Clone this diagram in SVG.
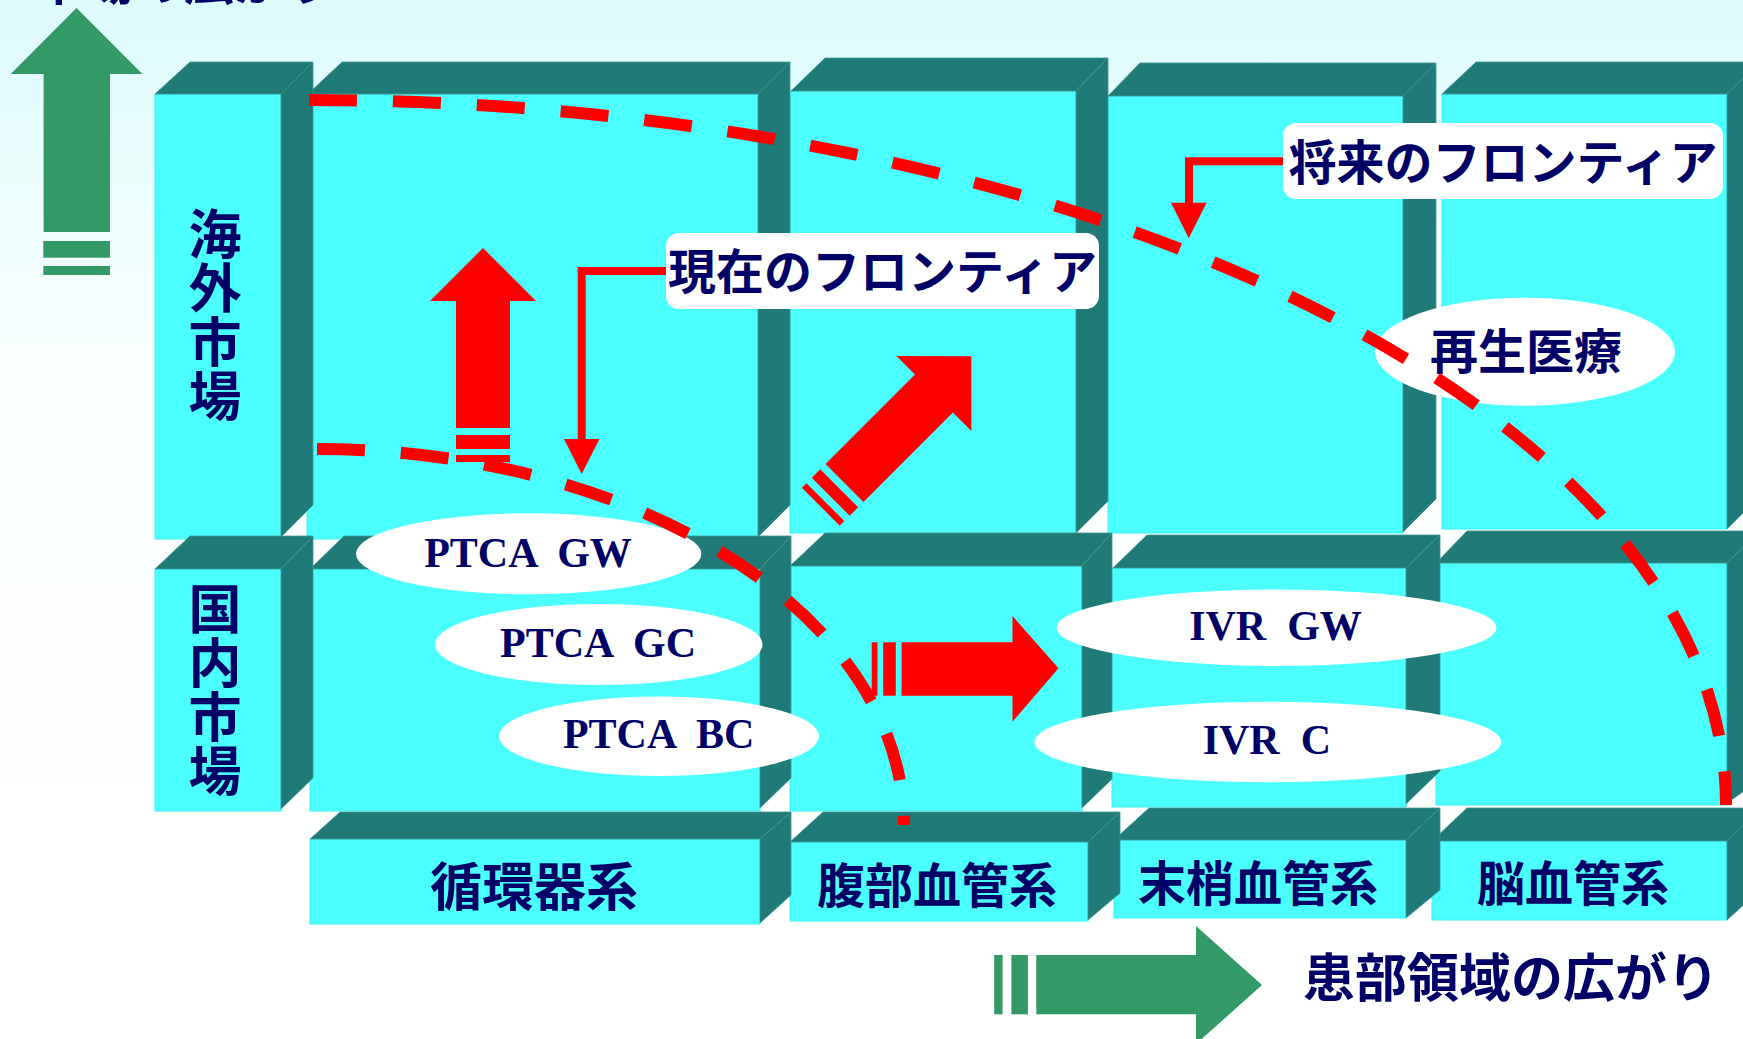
<svg xmlns="http://www.w3.org/2000/svg" width="1743" height="1039" viewBox="0 0 1743 1039">
<defs>
<linearGradient id="bg" x1="0" y1="0" x2="0" y2="1">
<stop offset="0" stop-color="#dcfbfc"/>
<stop offset="0.38" stop-color="#fcffff"/>
<stop offset="1" stop-color="#ffffff"/>
</linearGradient>
<style>
.fr{fill:#4cffff;stroke:#3df2f2;stroke-width:1}
.dk{fill:#1f7a78;stroke:#3c9796;stroke-width:0.8}
.jp{font-family:"Noto Sans CJK JP","Noto Sans CJK SC",sans-serif;font-weight:bold;fill:#000066}
.vt{writing-mode:vertical-rl;letter-spacing:1px;font-size:53px}
.sf{font-family:"Liberation Serif","Times New Roman",serif;font-weight:bold;fill:#000066;font-size:42px;white-space:pre}
.el{fill:#ffffff}
.lb{fill:#ffffff}
.rd{fill:#ff0000}
.gr{fill:#339966}
.dash{fill:none;stroke:#ff0000;stroke-width:12;stroke-dasharray:48 36}
.ln{fill:none;stroke:#ff0000;stroke-width:8}
</style>
</defs>
<rect width="1743" height="1039" fill="url(#bg)"/>
<text class="jp" x="34" y="0" font-size="50">市場の広がり</text>

<!-- green axis arrows -->
<g id="axis-up">
<polygon class="gr" points="76.5,8 142.4,74 110,74 110,232 43.6,232 43.6,74 10.7,74"/>
<rect class="gr" x="43.3" y="241" width="66.7" height="16.7"/>
<rect class="gr" x="43.3" y="266" width="66.7" height="9"/>
</g>
<g id="axis-right">
<polygon class="gr" points="1036.3,955 1196,955 1196,926 1262,985 1196,1044 1196,1014.3 1036.3,1014.3"/>
<rect class="gr" x="1011.4" y="955" width="16.5" height="59.3"/>
<rect class="gr" x="994.2" y="955" width="8.4" height="59.3"/>
</g>

<!-- overseas row (right to left) -->
<g id="blk-brain-overseas">
<rect class="fr" x="1442" y="94" width="285" height="435"/>
<polygon class="dk" points="1442,94 1476,62 1760,62 1727,94"/>
<polygon class="dk" points="1727,94 1760,62 1760,496 1727,529"/>
</g>
<g id="blk-periph-overseas">
<rect class="fr" x="1108" y="96" width="295" height="437"/>
<polygon class="dk" points="1108,96 1140,63 1436,63 1403,96"/>
<polygon class="dk" points="1403,96 1436,63 1436,499 1403,532"/>
</g>
<g id="blk-abd-overseas">
<rect class="fr" x="790" y="91" width="286" height="442"/>
<polygon class="dk" points="791,91 825,58 1108,58 1076,91"/>
<polygon class="dk" points="1076,91 1108,58 1108,501 1076,533"/>
</g>
<g id="blk-circ-overseas">
<rect class="fr" x="307" y="94" width="451" height="445"/>
<polygon class="dk" points="308,94 342,62 790,62 758,94"/>
<polygon class="dk" points="758,94 790,62 790,505 758,537"/>
</g>
<g id="blk-overseas">
<rect class="fr" x="155" y="94" width="126" height="445"/>
<polygon class="dk" points="155,94 190,62 313,62 281,94"/>
<polygon class="dk" points="281,94 313,62 313,505 281,537"/>
<text class="jp vt" x="215" y="207">海外市場</text>
</g>

<!-- domestic row -->
<g id="blk-brain-domestic">
<rect class="fr" x="1436" y="563" width="291" height="242"/>
<polygon class="dk" points="1436,563 1467,531 1760,531 1727,563"/>
<polygon class="dk" points="1727,563 1760,531 1760,780 1727,803"/>
</g>
<g id="blk-periph-domestic">
<rect class="fr" x="1112" y="568" width="294" height="239"/>
<polygon class="dk" points="1113,568 1147,535 1440,535 1406,568"/>
<polygon class="dk" points="1406,568 1440,535 1440,771 1406,804"/>
</g>
<g id="blk-abd-domestic">
<rect class="fr" x="790" y="566" width="292" height="245"/>
<polygon class="dk" points="790,566 825,533 1112,533 1082,566"/>
<polygon class="dk" points="1082,566 1112,533 1112,779 1082,808"/>
</g>
<g id="blk-circ-domestic">
<rect class="fr" x="310" y="569" width="450" height="242"/>
<polygon class="dk" points="310,569 344,536 791,536 760,569"/>
<polygon class="dk" points="760,569 791,536 791,778 760,808"/>
</g>
<g id="blk-domestic">
<rect class="fr" x="155" y="569" width="126" height="242"/>
<polygon class="dk" points="155,569 190,536 313,536 281,569"/>
<polygon class="dk" points="281,569 313,536 313,778 281,809"/>
<text class="jp vt" x="215" y="582">国内市場</text>
</g>

<!-- column label row -->
<g id="lbl-brain">
<rect class="fr" x="1432" y="841" width="295" height="79"/>
<polygon class="dk" points="1432,841 1467,808 1760,808 1727,841"/>
<polygon class="dk" points="1727,841 1760,808 1760,890 1727,920"/>
<text class="jp" x="1573" y="901" font-size="48" text-anchor="middle">脳血管系</text>
</g>
<g id="lbl-periph">
<rect class="fr" x="1114" y="840" width="292" height="78"/>
<polygon class="dk" points="1114,840 1149,808 1440,808 1406,840"/>
<polygon class="dk" points="1406,840 1440,808 1440,890 1406,918"/>
<text class="jp" x="1258" y="901" font-size="48" text-anchor="middle">末梢血管系</text>
</g>
<g id="lbl-abd">
<rect class="fr" x="790" y="842" width="298" height="79"/>
<polygon class="dk" points="790,842 823,812 1120,812 1088,842"/>
<polygon class="dk" points="1088,842 1120,812 1120,893 1088,920"/>
<text class="jp" x="937" y="903" font-size="48" text-anchor="middle">腹部血管系</text>
</g>
<g id="lbl-circ">
<rect class="fr" x="310" y="839" width="450" height="85"/>
<polygon class="dk" points="310,839 340,812 791,812 760,839"/>
<polygon class="dk" points="760,839 791,812 791,895 760,923"/>
<text class="jp" x="534" y="906" font-size="52" text-anchor="middle">循環器系</text>
</g>

<!-- product ellipses -->
<g id="ptca-gw">
<ellipse class="el" cx="528.7" cy="553.8" rx="172.7" ry="40.5"/>
<text class="sf" x="528" y="566.5" text-anchor="middle" xml:space="preserve">PTCA  GW</text>
</g>
<g id="ptca-gc">
<ellipse class="el" cx="598.8" cy="644.5" rx="163.8" ry="40.5"/>
<text class="sf" x="598" y="656.5" text-anchor="middle" xml:space="preserve">PTCA  GC</text>
</g>
<g id="ptca-bc">
<ellipse class="el" cx="659" cy="736.3" rx="160" ry="39.7"/>
<text class="sf" x="658.6" y="748" text-anchor="middle" xml:space="preserve">PTCA  BC</text>
</g>
<g id="ivr-gw">
<ellipse class="el" cx="1276.5" cy="627.7" rx="219.9" ry="38.3"/>
<text class="sf" x="1275.5" y="640" text-anchor="middle" xml:space="preserve">IVR  GW</text>
</g>
<g id="ivr-c">
<ellipse class="el" cx="1267.8" cy="742" rx="233.5" ry="40.3"/>
<text class="sf" x="1266.8" y="754" text-anchor="middle" xml:space="preserve">IVR  C</text>
</g>
<g id="regen">
<ellipse class="el" cx="1525" cy="351.7" rx="150" ry="54"/>
<text class="jp" x="1526" y="369" font-size="48" text-anchor="middle">再生医療</text>
</g>

<!-- red growth arrows -->
<g id="arrow-up">
<polygon class="rd" points="483,248 536,301 510,301 510,428 456,428 456,301 430,301"/>
<rect class="rd" x="456" y="435" width="54" height="14"/>
<rect class="rd" x="456" y="455" width="54" height="7"/>
</g>
<g id="arrow-diag" transform="translate(844.5,483) rotate(-45)">
<polygon class="rd" points="0,-26.8 126.5,-26.8 126.5,-53 179.4,0 126.5,53 126.5,26.8 0,26.8"/>
<rect class="rd" x="-19.5" y="-26.8" width="12" height="53.6"/>
<rect class="rd" x="-33.5" y="-26.8" width="6.5" height="53.6"/>
</g>
<g id="arrow-right">
<polygon class="rd" points="901.6,642.3 1012.5,642.3 1012.5,616 1058.5,668.3 1012.5,721.7 1012.5,695.7 901.6,695.7"/>
<rect class="rd" x="883.2" y="642.3" width="12.6" height="53.4"/>
<rect class="rd" x="871.7" y="642.3" width="5.8" height="53.4"/>
</g>

<!-- connectors -->
<g id="connectors">
<path class="dash" d="M309,100 A1417,705 0 0 1 1726,805"/>
<path class="dash" d="M317,449 A587,376 0 0 1 904,825"/>
<polyline class="ln" points="670,271 581.7,271 581.7,441"/>
<polygon class="rd" points="564,439 599.5,439 581.7,474"/>
<polyline class="ln" points="1287,161.3 1189,161.3 1189,204"/>
<polygon class="rd" points="1171,202.7 1206.6,202.7 1188.8,238.3"/>
</g>

<!-- frontier labels -->
<g id="label-current">
<rect class="lb" x="666" y="233" width="433" height="76" rx="13"/>
<text class="jp" x="882.5" y="289" font-size="48" text-anchor="middle">現在のフロンティア</text>
</g>
<g id="label-future">
<rect class="lb" x="1283" y="123" width="440" height="76" rx="13"/>
<text class="jp" x="1503" y="180" font-size="48" text-anchor="middle">将来のフロンティア</text>
</g>

<text class="jp" x="1303" y="997" font-size="52">患部領域の広がり</text>
</svg>
